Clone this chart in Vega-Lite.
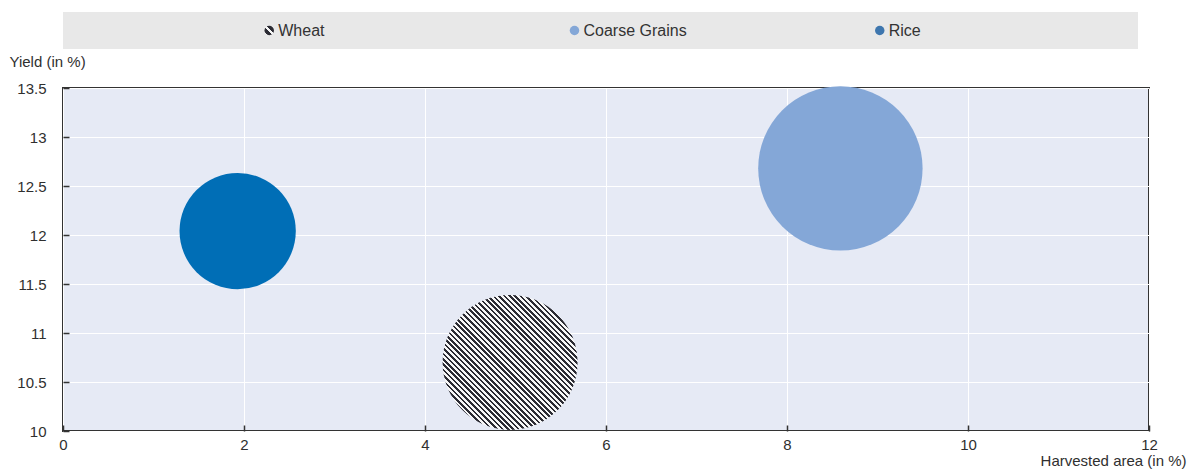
{
  "$schema": "https://vega.github.io/schema/vega-lite/v6.json",
  "padding": {"left": 8, "top": 12, "right": 5, "bottom": 1},
  "background": "white",
  "config": {
    "font": "Liberation Sans",
    "view": {"stroke": null},
    "axis": {
      "labelFont": "Liberation Sans",
      "labelFontSize": 15,
      "labelColor": "#2f2f2f",
      "titleFont": "Liberation Sans",
      "titleFontSize": 15,
      "titleFontWeight": "normal",
      "titleColor": "#2f2f2f",
      "gridColor": "#ffffff",
      "gridWidth": 1,
      "gridOpacity": 1,
      "domain": false,
      "tickColor": "#333333",
      "tickSize": -6,
      "tickWidth": 1.5,
      "labelFlush": false,
      "labelOverlap": false
    }
  },
  "datasets": {
    "crops": [
      {"crop": "Wheat", "area": 4.94, "yield": 10.7, "weight": 0.674},
      {"crop": "Coarse Grains", "area": 8.59, "yield": 12.68, "weight": 1.0},
      {"crop": "Rice", "area": 1.93, "yield": 12.04, "weight": 0.5}
    ]
  },
  "bounds": "flush",
  "spacing": 39,
  "resolve": {"scale": {"x": "independent", "color": "independent", "size": "independent"}},
  "vconcat": [
    {
      "width": 1075,
      "height": 37,
      "view": {"fill": "#e8e8e8", "stroke": null},
      "data": {"name": "crops"},
      "encoding": {
        "x": {
          "field": "crop",
          "type": "nominal",
          "sort": ["Wheat", "Coarse Grains", "Rice"],
          "scale": {"type": "point", "padding": 0.7608, "align": 0.444},
          "axis": null
        }
      },
      "layer": [
        {
          "transform": [{"filter": "datum.crop !== 'Wheat'"}],
          "mark": {"type": "point", "filled": true, "opacity": 1, "size": 90, "shape": "circle", "strokeWidth": 0},
          "encoding": {
            "color": {
              "field": "crop",
              "type": "nominal",
              "scale": {"domain": ["Coarse Grains", "Rice"], "range": ["#84a7d7", "#3e76ae"]},
              "legend": null
            }
          }
        },
        {
          "transform": [{"filter": "datum.crop === 'Wheat'"}],
          "mark": {
            "type": "point", "filled": true, "opacity": 1, "size": 90, "shape": "circle", "strokeWidth": 0,
            "fill": {
              "gradient": "linear", "x1": 0, "y1": 1, "x2": 1, "y2": 0,
              "stops": [
                {"offset": 0, "color": "#f7f7f7"}, {"offset": 0.15, "color": "#f7f7f7"},
                {"offset": 0.15, "color": "#2b2b33"}, {"offset": 0.42, "color": "#2b2b33"},
                {"offset": 0.42, "color": "#f7f7f7"}, {"offset": 0.58, "color": "#f7f7f7"},
                {"offset": 0.58, "color": "#2b2b33"}, {"offset": 0.85, "color": "#2b2b33"},
                {"offset": 0.85, "color": "#f7f7f7"}, {"offset": 1, "color": "#f7f7f7"}
              ]
            }
          }
        },
        {
          "mark": {"type": "text", "align": "left", "baseline": "middle", "dx": 9, "fontSize": 16, "color": "#333333"},
          "encoding": {"text": {"field": "crop"}}
        }
      ]
    },
    {
      "width": 1086,
      "height": 343,
      "view": {"fill": "#e6eaf5", "stroke": "#333333", "strokeWidth": 2},
      "data": {"name": "crops"},
      "encoding": {
        "x": {
          "field": "area",
          "type": "quantitative",
          "scale": {"domain": [0, 12], "nice": false, "zero": false},
          "axis": {
            "values": [0, 2, 4, 6, 8, 10, 12],
            "format": "d",
            "labelPadding": 12,
            "title": "Harvested area (in %)",
            "titleX": 1123,
            "titleY": 34,
            "titleAlign": "right",
            "titleBaseline": "alphabetic"
          }
        },
        "y": {
          "field": "yield",
          "type": "quantitative",
          "scale": {"domain": [10, 13.5], "nice": false, "zero": false},
          "axis": {
            "values": [10, 10.5, 11, 11.5, 12, 12.5, 13, 13.5],
            "format": "~g",
            "labelPadding": 23,
            "title": "Yield (in %)",
            "titleAngle": 0,
            "titleX": -54,
            "titleY": -22,
            "titleAlign": "left",
            "titleBaseline": "alphabetic"
          }
        },
        "size": {
          "field": "weight",
          "type": "quantitative",
          "scale": {"domain": [0, 1], "range": [0, 27027]},
          "legend": null
        }
      },
      "layer": [
        {
          "transform": [{"filter": "datum.crop !== 'Wheat'"}],
          "mark": {"type": "point", "filled": true, "opacity": 1, "shape": "circle", "strokeWidth": 0},
          "encoding": {
            "color": {
              "field": "crop",
              "type": "nominal",
              "scale": {"domain": ["Coarse Grains", "Rice"], "range": ["#84a7d7", "#006eb6"]},
              "legend": null
            }
          }
        },
        {
          "transform": [{"filter": "datum.crop === 'Wheat'"}],
          "mark": {
            "type": "point", "filled": true, "opacity": 1, "shape": "circle", "strokeWidth": 0,
            "fill": {
              "gradient": "linear", "x1": 0, "y1": 1, "x2": 1, "y2": 0,
              "stops": [
                {"offset": 0, "color": "#2b2b33"}, {"offset": 0.01, "color": "#2b2b33"},
                {"offset": 0.01, "color": "#f7f7f7"}, {"offset": 0.02, "color": "#f7f7f7"},
                {"offset": 0.02, "color": "#2b2b33"}, {"offset": 0.03, "color": "#2b2b33"},
                {"offset": 0.03, "color": "#f7f7f7"}, {"offset": 0.04, "color": "#f7f7f7"},
                {"offset": 0.04, "color": "#2b2b33"}, {"offset": 0.05, "color": "#2b2b33"},
                {"offset": 0.05, "color": "#f7f7f7"}, {"offset": 0.06, "color": "#f7f7f7"},
                {"offset": 0.06, "color": "#2b2b33"}, {"offset": 0.07, "color": "#2b2b33"},
                {"offset": 0.07, "color": "#f7f7f7"}, {"offset": 0.08, "color": "#f7f7f7"},
                {"offset": 0.08, "color": "#2b2b33"}, {"offset": 0.09, "color": "#2b2b33"},
                {"offset": 0.09, "color": "#f7f7f7"}, {"offset": 0.1, "color": "#f7f7f7"},
                {"offset": 0.1, "color": "#2b2b33"}, {"offset": 0.11, "color": "#2b2b33"},
                {"offset": 0.11, "color": "#f7f7f7"}, {"offset": 0.12, "color": "#f7f7f7"},
                {"offset": 0.12, "color": "#2b2b33"}, {"offset": 0.13, "color": "#2b2b33"},
                {"offset": 0.13, "color": "#f7f7f7"}, {"offset": 0.14, "color": "#f7f7f7"},
                {"offset": 0.14, "color": "#2b2b33"}, {"offset": 0.15, "color": "#2b2b33"},
                {"offset": 0.15, "color": "#f7f7f7"}, {"offset": 0.16, "color": "#f7f7f7"},
                {"offset": 0.16, "color": "#2b2b33"}, {"offset": 0.17, "color": "#2b2b33"},
                {"offset": 0.17, "color": "#f7f7f7"}, {"offset": 0.18, "color": "#f7f7f7"},
                {"offset": 0.18, "color": "#2b2b33"}, {"offset": 0.19, "color": "#2b2b33"},
                {"offset": 0.19, "color": "#f7f7f7"}, {"offset": 0.2, "color": "#f7f7f7"},
                {"offset": 0.2, "color": "#2b2b33"}, {"offset": 0.21, "color": "#2b2b33"},
                {"offset": 0.21, "color": "#f7f7f7"}, {"offset": 0.22, "color": "#f7f7f7"},
                {"offset": 0.22, "color": "#2b2b33"}, {"offset": 0.23, "color": "#2b2b33"},
                {"offset": 0.23, "color": "#f7f7f7"}, {"offset": 0.24, "color": "#f7f7f7"},
                {"offset": 0.24, "color": "#2b2b33"}, {"offset": 0.25, "color": "#2b2b33"},
                {"offset": 0.25, "color": "#f7f7f7"}, {"offset": 0.26, "color": "#f7f7f7"},
                {"offset": 0.26, "color": "#2b2b33"}, {"offset": 0.27, "color": "#2b2b33"},
                {"offset": 0.27, "color": "#f7f7f7"}, {"offset": 0.28, "color": "#f7f7f7"},
                {"offset": 0.28, "color": "#2b2b33"}, {"offset": 0.29, "color": "#2b2b33"},
                {"offset": 0.29, "color": "#f7f7f7"}, {"offset": 0.3, "color": "#f7f7f7"},
                {"offset": 0.3, "color": "#2b2b33"}, {"offset": 0.31, "color": "#2b2b33"},
                {"offset": 0.31, "color": "#f7f7f7"}, {"offset": 0.32, "color": "#f7f7f7"},
                {"offset": 0.32, "color": "#2b2b33"}, {"offset": 0.33, "color": "#2b2b33"},
                {"offset": 0.33, "color": "#f7f7f7"}, {"offset": 0.34, "color": "#f7f7f7"},
                {"offset": 0.34, "color": "#2b2b33"}, {"offset": 0.35, "color": "#2b2b33"},
                {"offset": 0.35, "color": "#f7f7f7"}, {"offset": 0.36, "color": "#f7f7f7"},
                {"offset": 0.36, "color": "#2b2b33"}, {"offset": 0.37, "color": "#2b2b33"},
                {"offset": 0.37, "color": "#f7f7f7"}, {"offset": 0.38, "color": "#f7f7f7"},
                {"offset": 0.38, "color": "#2b2b33"}, {"offset": 0.39, "color": "#2b2b33"},
                {"offset": 0.39, "color": "#f7f7f7"}, {"offset": 0.4, "color": "#f7f7f7"},
                {"offset": 0.4, "color": "#2b2b33"}, {"offset": 0.41, "color": "#2b2b33"},
                {"offset": 0.41, "color": "#f7f7f7"}, {"offset": 0.42, "color": "#f7f7f7"},
                {"offset": 0.42, "color": "#2b2b33"}, {"offset": 0.43, "color": "#2b2b33"},
                {"offset": 0.43, "color": "#f7f7f7"}, {"offset": 0.44, "color": "#f7f7f7"},
                {"offset": 0.44, "color": "#2b2b33"}, {"offset": 0.45, "color": "#2b2b33"},
                {"offset": 0.45, "color": "#f7f7f7"}, {"offset": 0.46, "color": "#f7f7f7"},
                {"offset": 0.46, "color": "#2b2b33"}, {"offset": 0.47, "color": "#2b2b33"},
                {"offset": 0.47, "color": "#f7f7f7"}, {"offset": 0.48, "color": "#f7f7f7"},
                {"offset": 0.48, "color": "#2b2b33"}, {"offset": 0.49, "color": "#2b2b33"},
                {"offset": 0.49, "color": "#f7f7f7"}, {"offset": 0.5, "color": "#f7f7f7"},
                {"offset": 0.5, "color": "#2b2b33"}, {"offset": 0.51, "color": "#2b2b33"},
                {"offset": 0.51, "color": "#f7f7f7"}, {"offset": 0.52, "color": "#f7f7f7"},
                {"offset": 0.52, "color": "#2b2b33"}, {"offset": 0.53, "color": "#2b2b33"},
                {"offset": 0.53, "color": "#f7f7f7"}, {"offset": 0.54, "color": "#f7f7f7"},
                {"offset": 0.54, "color": "#2b2b33"}, {"offset": 0.55, "color": "#2b2b33"},
                {"offset": 0.55, "color": "#f7f7f7"}, {"offset": 0.56, "color": "#f7f7f7"},
                {"offset": 0.56, "color": "#2b2b33"}, {"offset": 0.57, "color": "#2b2b33"},
                {"offset": 0.57, "color": "#f7f7f7"}, {"offset": 0.58, "color": "#f7f7f7"},
                {"offset": 0.58, "color": "#2b2b33"}, {"offset": 0.59, "color": "#2b2b33"},
                {"offset": 0.59, "color": "#f7f7f7"}, {"offset": 0.6, "color": "#f7f7f7"},
                {"offset": 0.6, "color": "#2b2b33"}, {"offset": 0.61, "color": "#2b2b33"},
                {"offset": 0.61, "color": "#f7f7f7"}, {"offset": 0.62, "color": "#f7f7f7"},
                {"offset": 0.62, "color": "#2b2b33"}, {"offset": 0.63, "color": "#2b2b33"},
                {"offset": 0.63, "color": "#f7f7f7"}, {"offset": 0.64, "color": "#f7f7f7"},
                {"offset": 0.64, "color": "#2b2b33"}, {"offset": 0.65, "color": "#2b2b33"},
                {"offset": 0.65, "color": "#f7f7f7"}, {"offset": 0.66, "color": "#f7f7f7"},
                {"offset": 0.66, "color": "#2b2b33"}, {"offset": 0.67, "color": "#2b2b33"},
                {"offset": 0.67, "color": "#f7f7f7"}, {"offset": 0.68, "color": "#f7f7f7"},
                {"offset": 0.68, "color": "#2b2b33"}, {"offset": 0.69, "color": "#2b2b33"},
                {"offset": 0.69, "color": "#f7f7f7"}, {"offset": 0.7, "color": "#f7f7f7"},
                {"offset": 0.7, "color": "#2b2b33"}, {"offset": 0.71, "color": "#2b2b33"},
                {"offset": 0.71, "color": "#f7f7f7"}, {"offset": 0.72, "color": "#f7f7f7"},
                {"offset": 0.72, "color": "#2b2b33"}, {"offset": 0.73, "color": "#2b2b33"},
                {"offset": 0.73, "color": "#f7f7f7"}, {"offset": 0.74, "color": "#f7f7f7"},
                {"offset": 0.74, "color": "#2b2b33"}, {"offset": 0.75, "color": "#2b2b33"},
                {"offset": 0.75, "color": "#f7f7f7"}, {"offset": 0.76, "color": "#f7f7f7"},
                {"offset": 0.76, "color": "#2b2b33"}, {"offset": 0.77, "color": "#2b2b33"},
                {"offset": 0.77, "color": "#f7f7f7"}, {"offset": 0.78, "color": "#f7f7f7"},
                {"offset": 0.78, "color": "#2b2b33"}, {"offset": 0.79, "color": "#2b2b33"},
                {"offset": 0.79, "color": "#f7f7f7"}, {"offset": 0.8, "color": "#f7f7f7"},
                {"offset": 0.8, "color": "#2b2b33"}, {"offset": 0.81, "color": "#2b2b33"},
                {"offset": 0.81, "color": "#f7f7f7"}, {"offset": 0.82, "color": "#f7f7f7"},
                {"offset": 0.82, "color": "#2b2b33"}, {"offset": 0.83, "color": "#2b2b33"},
                {"offset": 0.83, "color": "#f7f7f7"}, {"offset": 0.84, "color": "#f7f7f7"},
                {"offset": 0.84, "color": "#2b2b33"}, {"offset": 0.85, "color": "#2b2b33"},
                {"offset": 0.85, "color": "#f7f7f7"}, {"offset": 0.86, "color": "#f7f7f7"},
                {"offset": 0.86, "color": "#2b2b33"}, {"offset": 0.87, "color": "#2b2b33"},
                {"offset": 0.87, "color": "#f7f7f7"}, {"offset": 0.88, "color": "#f7f7f7"},
                {"offset": 0.88, "color": "#2b2b33"}, {"offset": 0.89, "color": "#2b2b33"},
                {"offset": 0.89, "color": "#f7f7f7"}, {"offset": 0.9, "color": "#f7f7f7"},
                {"offset": 0.9, "color": "#2b2b33"}, {"offset": 0.91, "color": "#2b2b33"},
                {"offset": 0.91, "color": "#f7f7f7"}, {"offset": 0.92, "color": "#f7f7f7"},
                {"offset": 0.92, "color": "#2b2b33"}, {"offset": 0.93, "color": "#2b2b33"},
                {"offset": 0.93, "color": "#f7f7f7"}, {"offset": 0.94, "color": "#f7f7f7"},
                {"offset": 0.94, "color": "#2b2b33"}, {"offset": 0.95, "color": "#2b2b33"},
                {"offset": 0.95, "color": "#f7f7f7"}, {"offset": 0.96, "color": "#f7f7f7"},
                {"offset": 0.96, "color": "#2b2b33"}, {"offset": 0.97, "color": "#2b2b33"},
                {"offset": 0.97, "color": "#f7f7f7"}, {"offset": 0.98, "color": "#f7f7f7"},
                {"offset": 0.98, "color": "#2b2b33"}, {"offset": 0.99, "color": "#2b2b33"},
                {"offset": 0.99, "color": "#f7f7f7"}, {"offset": 1, "color": "#f7f7f7"}
              ]
            }
          }
        }
      ]
    }
  ]
}
